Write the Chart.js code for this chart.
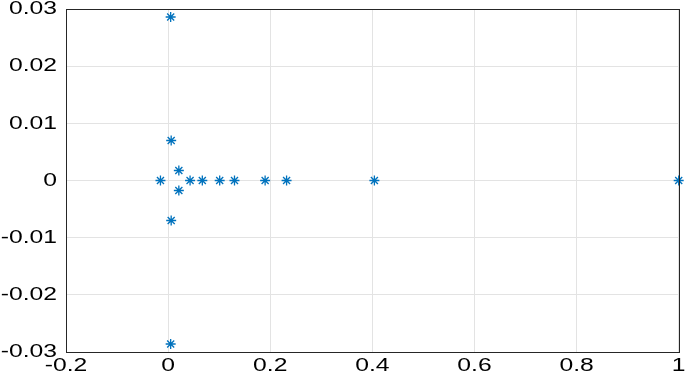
<!DOCTYPE html>
<html>
<head>
<meta charset="utf-8">
<script src="https://cdn.jsdelivr.net/npm/chart.js@4/dist/chart.umd.min.js"></script>
<style>
  html, body { margin: 0; padding: 0; background: #fff; }
  #wrap { width: 685px; height: 373px; }
</style>
</head>
<body>
<div id="wrap"><canvas id="grafico"></canvas></div>
<script>
var valoresX = [0.005, 0.005, 0.006, 0.006, 0.021, 0.021, -0.015, 0.043, 0.067, 0.101, 0.130, 0.190, 0.232, 0.404, 1.0];
var valoresY = [0.0286, -0.0286, 0.007, -0.007, 0.00175, -0.00175, 0, 0, 0, 0, 0, 0, 0, 0, 0];
var ticksX = [-0.2, 0, 0.2, 0.4, 0.6, 0.8, 1];
var ticksY = [-0.03, -0.02, -0.01, 0, 0.01, 0.02, 0.03];

var pontos = valoresX.map(function (x, i) { return { x: x, y: valoresY[i] }; });

var corAzul = '#0072BD';
var corEixo = '#262626';
var corGrade = '#e3e3e3';
var fonte = '19px "Liberation Sans", Arial, sans-serif';
var esticar = 1.3; // o texto da figura original esta esticado na horizontal

function fmt(v) {
  return String(Math.round(v * 1000) / 1000);
}

// texto esticado: escreve com escala horizontal
function escrever(c, txt, x, y, alinhar) {
  var w = c.measureText(txt).width * esticar;
  var x0 = alinhar === 'right' ? x - w : (alinhar === 'center' ? x - w / 2 : x);
  c.save();
  c.translate(x0, y);
  c.scale(esticar, 1);
  c.textAlign = 'left';
  c.fillText(txt, 0, 0);
  c.restore();
}

// moldura e rotulos dos eixos
var moldura = {
  id: 'moldura',
  afterDraw: function (chart) {
    var a = chart.chartArea, c = chart.ctx;
    c.save();
    c.strokeStyle = corEixo;
    c.lineWidth = 1;
    c.strokeRect(Math.round(a.left) + 0.5, Math.round(a.top) + 0.5,
      Math.round(a.right - a.left), Math.round(a.bottom - a.top));
    c.fillStyle = '#000';
    c.font = fonte;
    c.textBaseline = 'middle';
    ticksY.forEach(function (v) {
      escrever(c, fmt(v), a.left - 9, chart.scales.y.getPixelForValue(v), 'right');
    });
    c.textBaseline = 'alphabetic';
    ticksX.forEach(function (v) {
      escrever(c, fmt(v), chart.scales.x.getPixelForValue(v), 371, 'center');
    });
    c.restore();
  }
};

new Chart(document.getElementById('grafico').getContext('2d'), {
  type: 'scatter',
  data: {
    datasets: [{
      data: pontos,
      pointStyle: 'star',
      pointRadius: 5,
      borderColor: corAzul,
      backgroundColor: corAzul,
      borderWidth: 1.3,
      showLine: false,
      clip: false
    }]
  },
  options: {
    responsive: true,
    maintainAspectRatio: false,
    animation: false,
    layout: { padding: { left: 0, right: 6, top: 9, bottom: 0 } },
    plugins: { legend: { display: false }, tooltip: { enabled: false } },
    scales: {
      x: {
        type: 'linear',
        min: -0.2, max: 1,
        afterBuildTicks: function (s) { s.ticks = ticksX.map(function (v) { return { value: v }; }); },
        afterFit: function (s) { s.height = 21; },
        grid: { color: corGrade, drawTicks: false },
        border: { color: corEixo },
        ticks: { display: false }
      },
      y: {
        type: 'linear',
        min: -0.03, max: 0.03,
        afterBuildTicks: function (s) { s.ticks = ticksY.map(function (v) { return { value: v }; }); },
        afterFit: function (s) { s.width = 66; },
        grid: { color: corGrade, drawTicks: false },
        border: { color: corEixo },
        ticks: { display: false }
      }
    }
  },
  plugins: [moldura]
});
</script>
</body>
</html>
